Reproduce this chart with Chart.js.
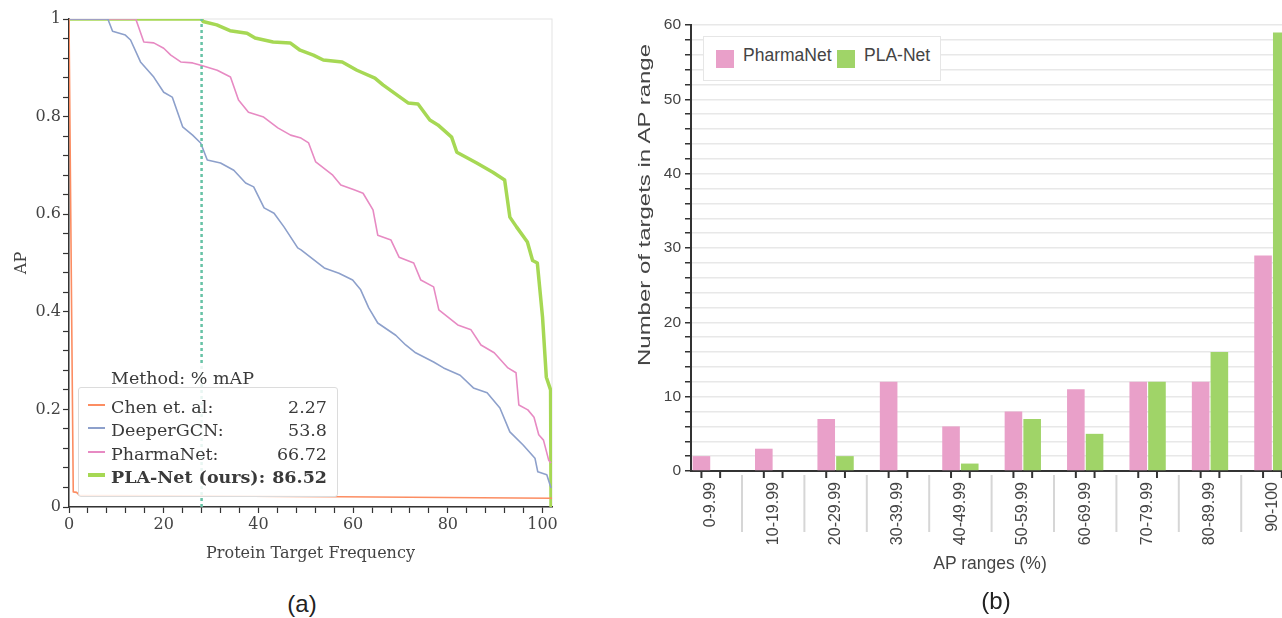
<!DOCTYPE html>
<html>
<head>
<meta charset="utf-8">
<script src="https://cdn.jsdelivr.net/npm/chart.js@4.4.1/dist/chart.umd.min.js"></script>
<style>
  body { margin: 0; width: 1282px; height: 618px; overflow: hidden; background: #fff; position: relative; }
  canvas { position: absolute; }
  #chartA { left: 0; top: 0; }
  #chartB { left: 600px; top: 0; }
  .abs { position: absolute; white-space: nowrap; }
  .serif { font-family: "DejaVu Serif", serif; font-size: 17.5px; line-height: 20px; color: #3a3a3a; }
  .sans { font-family: "Liberation Sans", Arial, sans-serif; color: #444; }
</style>
</head>
<body>
<canvas id="chartA" width="590" height="580"></canvas>
<canvas id="chartB" width="740" height="600"></canvas>

<div class="abs" style="left:78px;top:366px;width:260px;height:21px;background:rgba(255,255,255,0.85)"></div>
<div class="abs" style="left:78px;top:387px;width:260px;height:110px;box-sizing:border-box;border:1px solid #dcdcdc;border-radius:3px;background:rgba(255,255,255,0.85)"></div>
<div class="abs serif" style="left:111px;top:368px">Method: % mAP</div>
<div id="legA"></div>

<div class="abs" style="left:703px;top:36px;width:238px;height:45px;box-sizing:border-box;border:1px solid #e6e6e6;background:#fff"></div>
<div id="legB"></div>

<div class="abs sans" style="left:645px;top:205px;font-size:17px;transform:translate(-50%,-50%) rotate(-90deg) scaleX(1.41)">Number of targets in AP range</div>
<div class="abs sans" style="left:990px;top:553px;font-size:17.5px;line-height:20px;transform:translateX(-50%)">AP ranges (%)</div>

<div class="abs sans" style="left:302px;top:590px;font-size:24px;line-height:28px;color:#222;transform:translateX(-50%)">(a)</div>
<div class="abs sans" style="left:996px;top:587px;font-size:24px;line-height:28px;color:#222;transform:translateX(-50%)">(b)</div>

<script>
// (a) AP per protein target, sorted
const chenX = [0, 0.9, 1.6, 2.2, 57, 102];
const chenY = [1, 0.031, 0.03, 0.024, 0.021, 0.018];

const deepX = [0, 8.2, 9.2, 11.9, 13, 15.1, 17.9, 20, 21.8, 24, 26.1, 27.8, 29.2, 32, 34.8, 37.3, 39, 41.2, 43.3, 45.4, 48.3, 49, 53.9, 57, 59.9, 61.6, 63.3, 65.2, 69, 71.1, 73.2, 77, 79.1, 82.6, 85.4, 88.3, 91, 93.1, 95.9, 98.4, 99, 100.9, 101.8];
const deepY = [1, 1, 0.975, 0.967, 0.957, 0.912, 0.881, 0.85, 0.84, 0.779, 0.762, 0.746, 0.711, 0.705, 0.69, 0.664, 0.656, 0.613, 0.602, 0.574, 0.531, 0.527, 0.49, 0.479, 0.465, 0.445, 0.408, 0.377, 0.352, 0.332, 0.316, 0.297, 0.285, 0.27, 0.244, 0.234, 0.203, 0.154, 0.127, 0.1, 0.072, 0.066, 0.039];

const pharmaX = [0, 14.1, 15.8, 17.9, 20, 21.5, 23.6, 26.1, 28.2, 31.3, 34.1, 35.8, 37.9, 41.1, 44.1, 46.8, 49, 50.6, 52.1, 55.7, 57.4, 60.2, 62.1, 64.2, 65.2, 68, 69.7, 72.8, 74.3, 77, 78.1, 82.1, 84.9, 87, 89.8, 92.7, 94.4, 95, 96.9, 98.2, 99.2, 100.2, 101.3, 101.8];
const pharmaY = [1, 1, 0.953, 0.951, 0.94, 0.926, 0.912, 0.91, 0.904, 0.895, 0.881, 0.834, 0.809, 0.799, 0.777, 0.762, 0.756, 0.746, 0.707, 0.68, 0.66, 0.65, 0.643, 0.609, 0.557, 0.547, 0.512, 0.5, 0.465, 0.451, 0.404, 0.373, 0.363, 0.332, 0.316, 0.285, 0.275, 0.209, 0.199, 0.184, 0.148, 0.137, 0.096, 0.09];

const plaX = [0, 28, 28.3, 31.2, 34, 37.6, 39.3, 43.1, 46.7, 48.8, 51.6, 53.7, 57.7, 60.8, 64.6, 66.3, 69.9, 71.6, 73.7, 76.2, 77.9, 80.8, 81.9, 86.1, 89.5, 92, 93.1, 94.5, 96.8, 97.9, 98.9, 100, 100.8, 101.7, 101.8];
const plaY = [1, 1, 0.995, 0.988, 0.976, 0.971, 0.961, 0.953, 0.951, 0.936, 0.926, 0.916, 0.912, 0.895, 0.879, 0.865, 0.84, 0.828, 0.826, 0.793, 0.783, 0.758, 0.727, 0.705, 0.686, 0.67, 0.594, 0.574, 0.543, 0.505, 0.5, 0.389, 0.266, 0.24, 0];

const cutoffX = 28;
const methodNames = ["Chen et. al:", "DeeperGCN:", "PharmaNet:", "PLA-Net (ours):"];
const methodMAP = ["2.27", "53.8", "66.72", "86.52"];
const methodColors = ["#fc8d62", "#8da0cb", "#e78ac3", "#a6d854"];
const xMajorA = [0, 20, 40, 60, 80, 100];
const yMajorA = [0, 0.2, 0.4, 0.6, 0.8, 1];

// (b) histogram of AP ranges
const apRanges = ["0-9.99", "10-19.99", "20-29.99", "30-39.99", "40-49.99", "50-59.99", "60-69.99", "70-79.99", "80-89.99", "90-100"];
const pharmaCounts = [2, 3, 7, 12, 6, 8, 11, 12, 12, 29];
const plaCounts = [0, 0, 2, 0, 1, 7, 5, 12, 16, 59];
const barColors = ["#e9a0c9", "#a0d468"];
const yMajorB = [0, 10, 20, 30, 40, 50, 60];

const pts = (xs, ys) => xs.map((x, i) => ({ x: x, y: ys[i] }));
const dark = "#333";
const tickGray = "#444";

// light frame around the plot area of (a)
const frame = {
  id: "frame",
  beforeDraw(chart) {
    const { ctx, chartArea: a } = chart;
    ctx.save();
    ctx.strokeStyle = "#e3e3e3";
    ctx.lineWidth = 1;
    ctx.strokeRect(a.left, a.top, a.width, a.height);
    ctx.restore();
  }
};

const seriesA = [pts(chenX, chenY), pts(deepX, deepY), pts(pharmaX, pharmaY), pts(plaX, plaY)];

new Chart(document.getElementById("chartA"), {
  type: "line",
  data: {
    datasets: [
      {
        data: [{ x: cutoffX, y: 0 }, { x: cutoffX, y: 1 }],
        borderColor: "#66c2a5", borderWidth: 2.5, borderDash: [3, 3], borderCapStyle: "butt"
      },
      ...seriesA.map((d, i) => ({
        label: methodNames[i],
        data: d,
        borderColor: methodColors[i],
        borderWidth: i === 3 ? 3.5 : 1.6,
        borderJoinStyle: "round",
        clip: 0
      }))
    ]
  },
  options: {
    responsive: false,
    animation: false,
    events: [],
    layout: { padding: { top: 19, right: 38, bottom: 17, left: 0 } },
    elements: { point: { radius: 0 }, line: { tension: 0 } },
    plugins: { legend: { display: false }, tooltip: { enabled: false } },
    scales: {
      x: {
        type: "linear", min: 0, max: 102,
        afterFit: (s) => { s.height = 56; },
        afterBuildTicks: (s) => {
          const t = [];
          for (let v = 0; v <= 100; v += 4) t.push({ value: v });
          s.ticks = t;
        },
        ticks: {
          autoSkip: false, maxRotation: 0, padding: 2, color: tickGray,
          font: { family: "DejaVu Serif", size: 16 },
          callback: (v) => (xMajorA.includes(v) ? String(v) : "")
        },
        grid: { drawOnChartArea: false, tickLength: 6, tickColor: dark, tickWidth: 1.2 },
        border: { color: dark, width: 1.5 },
        title: { display: true, text: "Protein Target Frequency", color: tickGray, padding: { top: 0, bottom: 0 }, font: { family: "DejaVu Serif", size: 16 } }
      },
      y: {
        min: 0, max: 1,
        afterFit: (s) => { s.width = 69; },
        afterBuildTicks: (s) => {
          const t = [];
          for (let k = 0; k <= 25; k++) t.push({ value: k * 0.04 });
          s.ticks = t;
        },
        ticks: {
          autoSkip: false, padding: 2, color: tickGray,
          font: { family: "DejaVu Serif", size: 16 },
          callback: (v) => {
            const r = Math.round(v * 100) / 100;
            return yMajorA.includes(r) ? String(r) : "";
          }
        },
        grid: { drawOnChartArea: false, tickLength: 6, tickColor: dark, tickWidth: 1.2 },
        border: { color: dark, width: 1.5 },
        title: { display: true, text: "AP", color: tickGray, padding: { top: 12, bottom: 0 }, font: { family: "DejaVu Serif", size: 16 } }
      }
    }
  },
  plugins: [frame]
});

// legend of (a)
const legA = document.getElementById("legA");
methodNames.forEach((name, i) => {
  const cap = 406.5 + i * 23.5;
  const line = document.createElement("div");
  line.className = "abs";
  const h = i === 3 ? 3.5 : 2;
  line.style.cssText = `left:88px;top:${cap - 2 - h / 2}px;width:17px;height:${h}px;background:${methodColors[i]}`;
  legA.appendChild(line);
  const row = document.createElement("div");
  row.className = "abs serif";
  row.style.cssText = `left:111px;top:${cap - 9.6}px;width:216px;display:flex;justify-content:space-between;font-weight:${i === 3 ? "bold" : "normal"}`;
  row.innerHTML = `<span>${name}</span><span>${methodMAP[i]}</span>`;
  legA.appendChild(row);
});

// two tick marks per range (one under each bar) and separators between ranges
const barTicks = {
  id: "barTicks",
  afterDraw(chart) {
    const { ctx, chartArea: a, scales: { x } } = chart;
    ctx.save();
    ctx.strokeStyle = dark;
    ctx.lineWidth = 2;
    chart.data.datasets.forEach((ds, i) => {
      chart.getDatasetMeta(i).data.forEach((bar) => {
        ctx.beginPath();
        ctx.moveTo(bar.x, a.bottom);
        ctx.lineTo(bar.x, a.bottom + 7);
        ctx.stroke();
      });
    });
    ctx.strokeStyle = "#d6d6d6";
    ctx.lineWidth = 2;
    apRanges.forEach((r, i) => {
      const px = x.getPixelForValue(i + 0.5);
      ctx.beginPath();
      ctx.moveTo(px, a.bottom + 4);
      ctx.lineTo(px, a.bottom + 61);
      ctx.stroke();
    });
    ctx.restore();
  }
};

const seriesB = [["PharmaNet", pharmaCounts], ["PLA-Net", plaCounts]];

new Chart(document.getElementById("chartB"), {
  type: "bar",
  data: {
    datasets: seriesB.map(([label, vals], i) => ({
      label: label,
      data: vals.map((v, j) => ({ x: j, y: v })),
      backgroundColor: barColors[i],
      borderWidth: 0,
      barPercentage: 0.94,
      categoryPercentage: 0.6
    }))
  },
  options: {
    responsive: false,
    animation: false,
    events: [],
    layout: { padding: { top: 25, right: 0, bottom: 26, left: 0 } },
    plugins: { legend: { display: false }, tooltip: { enabled: false } },
    scales: {
      x: {
        type: "linear", min: -0.317, max: 10.083, offset: false,
        afterFit: (s) => { s.height = 103; s.paddingLeft = 0; s.paddingRight = 0; },
        afterBuildTicks: (s) => { s.ticks = apRanges.map((r, i) => ({ value: i })); },
        ticks: {
          autoSkip: false, minRotation: 90, maxRotation: 90, padding: 11, color: tickGray,
          font: { family: "Liberation Sans", size: 16 },
          callback: (v) => apRanges[v]
        },
        grid: { display: false, drawTicks: false, offset: false },
        border: { color: dark, width: 2 }
      },
      y: {
        min: 0, max: 60,
        afterFit: (s) => { s.width = 91; s.paddingTop = 0; s.paddingBottom = 0; },
        afterBuildTicks: (s) => {
          const t = [];
          for (let v = 0; v <= 60; v += 2) t.push({ value: v });
          s.ticks = t;
        },
        ticks: {
          autoSkip: false, padding: 4, color: tickGray,
          font: { family: "Liberation Sans", size: 15.5 },
          callback: (v) => (yMajorB.includes(v) ? String(v) : "")
        },
        grid: { color: "#e8e8e8", lineWidth: 1.5, tickLength: 6, tickColor: dark, tickWidth: 1.5 },
        border: { color: dark, width: 2 }
      }
    }
  },
  plugins: [barTicks]
});

// legend of (b)
const legB = document.getElementById("legB");
const legBPos = [[716, 743], [837, 864]];
seriesB.forEach(([label], i) => {
  const sq = document.createElement("div");
  sq.className = "abs";
  sq.style.cssText = `left:${legBPos[i][0]}px;top:49.5px;width:18px;height:18px;background:${barColors[i]}`;
  legB.appendChild(sq);
  const t = document.createElement("div");
  t.className = "abs sans";
  t.style.cssText = `left:${legBPos[i][1]}px;top:45.2px;font-size:17.5px;line-height:20px`;
  t.textContent = label;
  legB.appendChild(t);
});
</script>
</body>
</html>
